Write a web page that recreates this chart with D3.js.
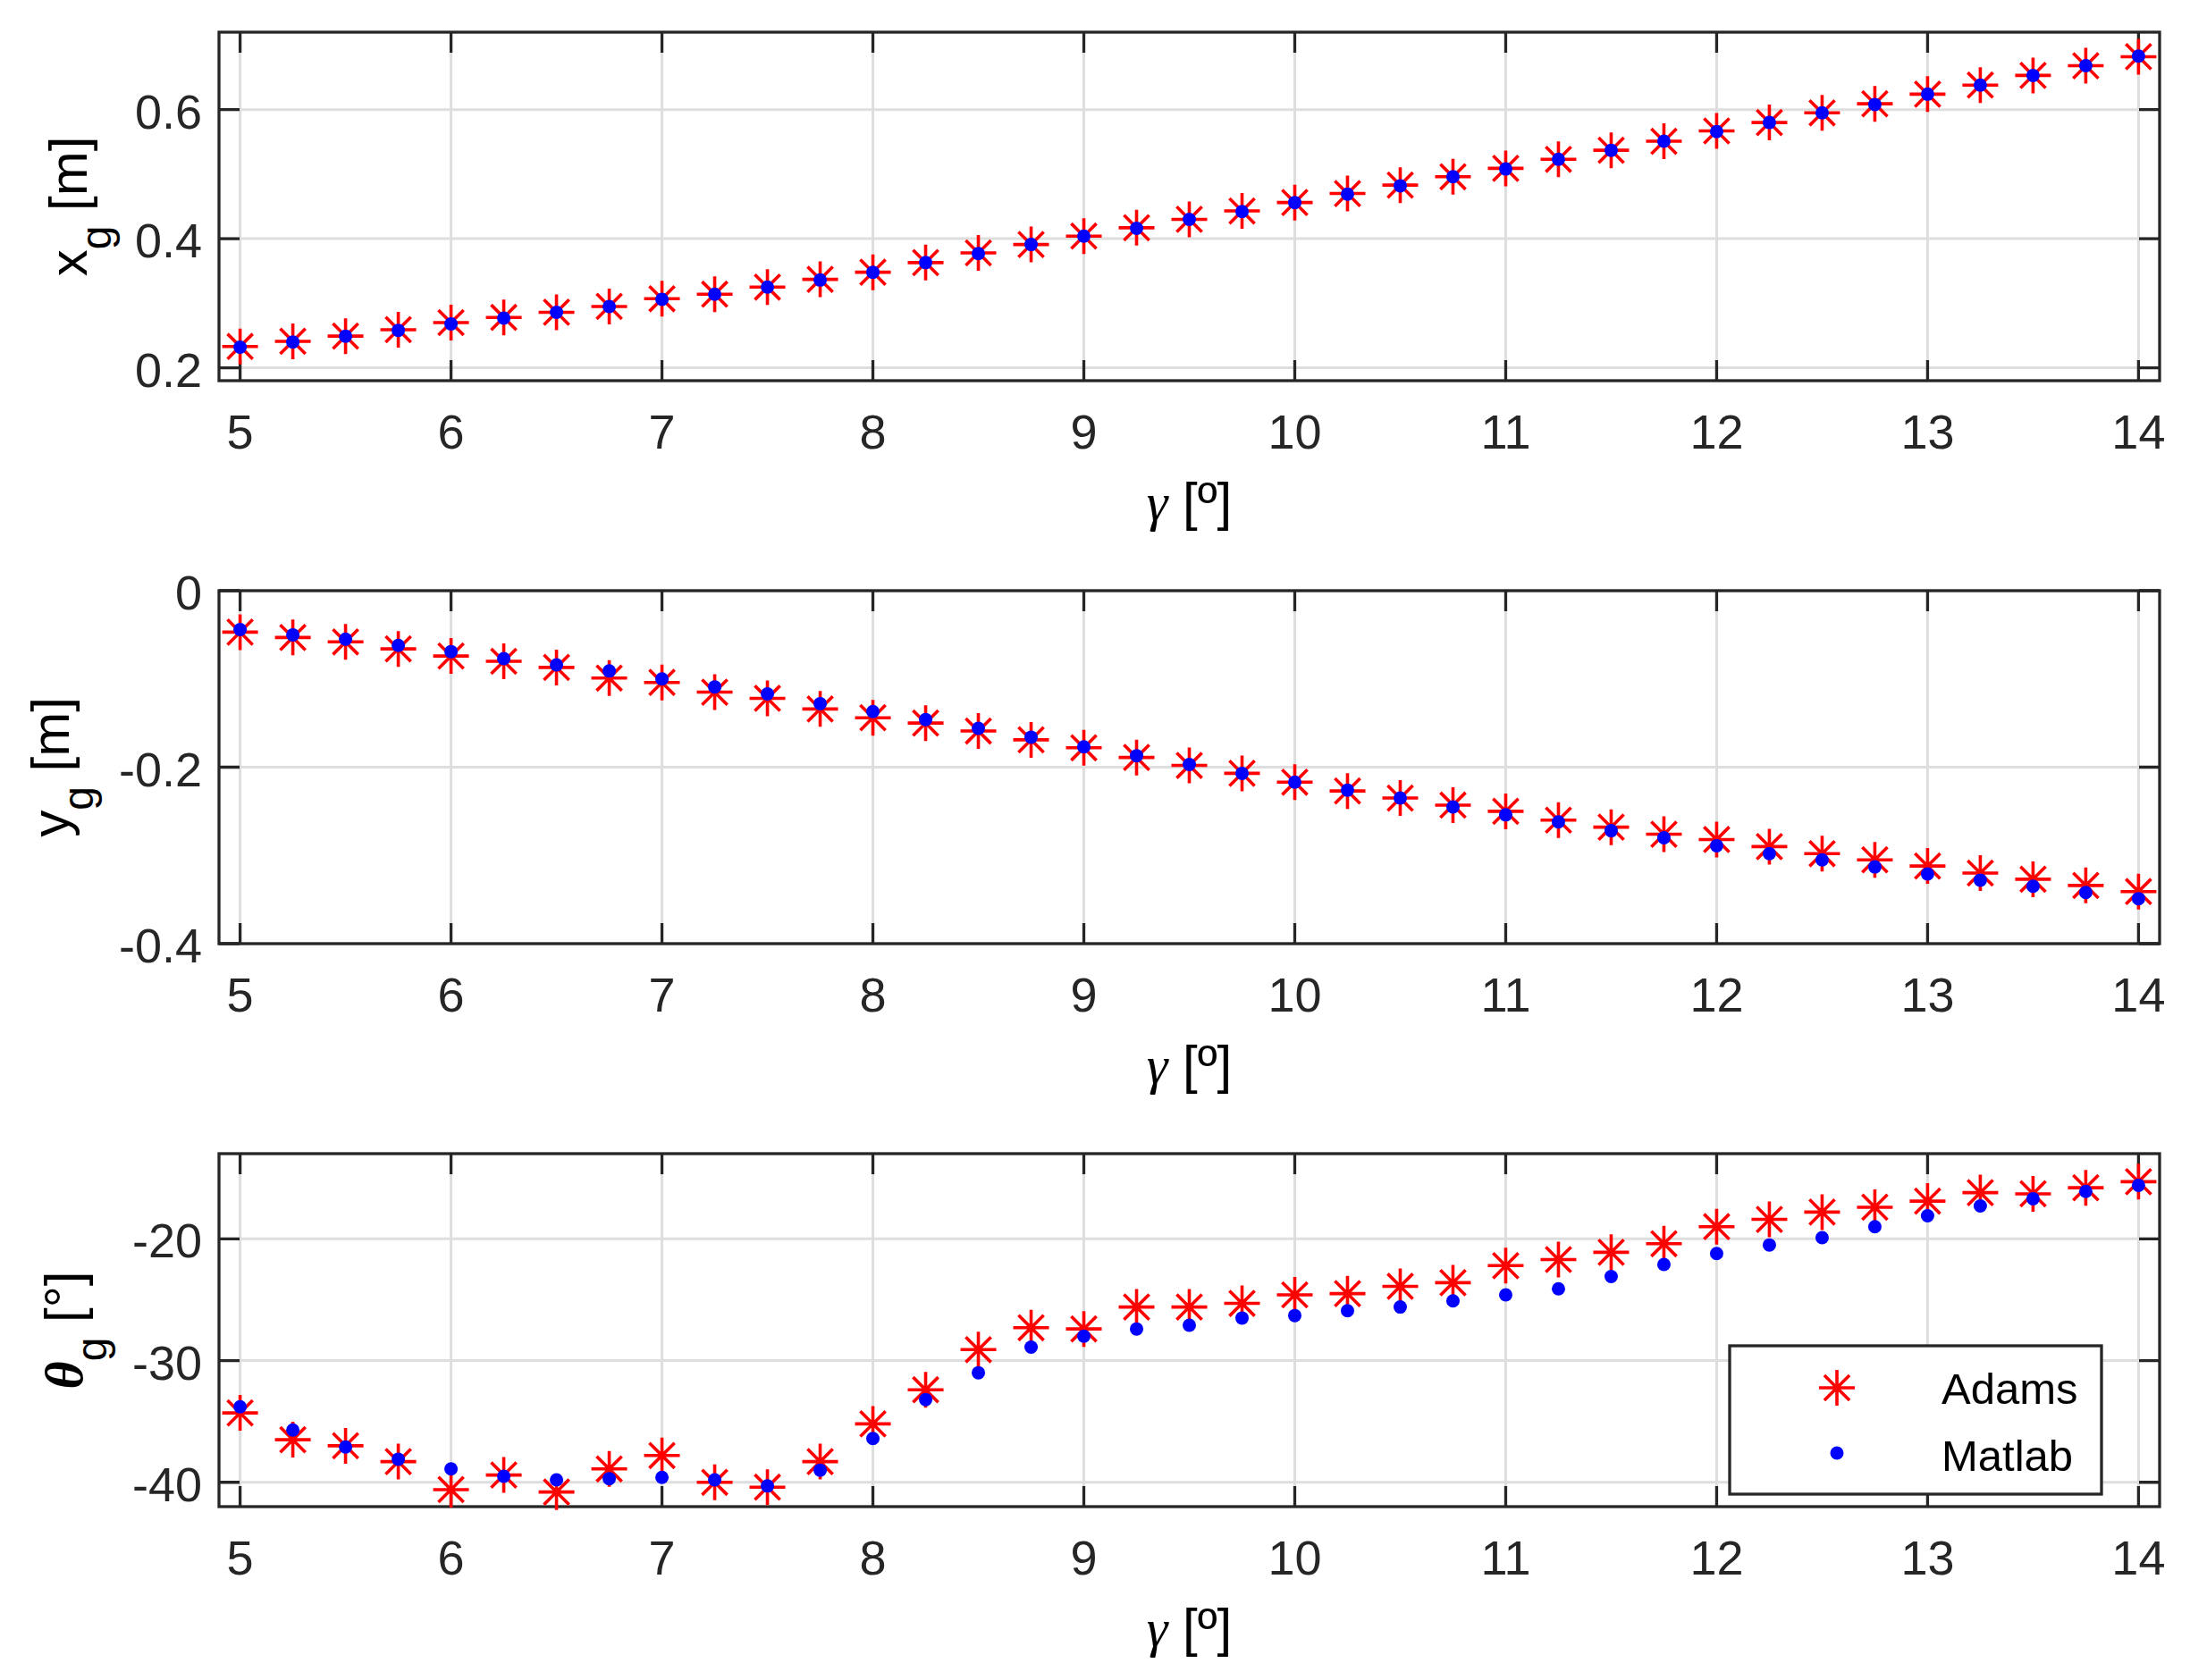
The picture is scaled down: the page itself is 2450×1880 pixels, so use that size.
<!DOCTYPE html>
<html>
<head>
<meta charset="utf-8">
<script src="https://cdn.jsdelivr.net/npm/d3@7"></script>
<style>
  body { margin: 0; background: #fff; }
  text { font-family: "Liberation Sans", Arial, Helvetica, sans-serif; }
</style>
</head>
<body>
<div id="chart"></div>
<script>
// gamma [deg]
var gamma = [5, 5.25, 5.5, 5.75, 6, 6.25, 6.5, 6.75, 7, 7.25, 7.5, 7.75, 8, 8.25, 8.5, 8.75, 9, 9.25, 9.5,
             9.75, 10, 10.25, 10.5, 10.75, 11, 11.25, 11.5, 11.75, 12, 12.25, 12.5, 12.75, 13, 13.25, 13.5, 13.75, 14];

var adamsX  = [0.233, 0.241, 0.249, 0.259, 0.270, 0.278, 0.286, 0.295, 0.307, 0.314, 0.325, 0.337, 0.348, 0.363, 0.378, 0.391, 0.404, 0.417, 0.430,
               0.443, 0.456, 0.470, 0.483, 0.496, 0.509, 0.523, 0.537, 0.551, 0.567, 0.580, 0.595, 0.609, 0.624, 0.638, 0.653, 0.668, 0.682];
var matlabX = [0.232, 0.240, 0.249, 0.258, 0.268, 0.277, 0.286, 0.295, 0.306, 0.314, 0.325, 0.336, 0.348, 0.363, 0.377, 0.391, 0.404, 0.416, 0.430,
               0.442, 0.456, 0.469, 0.482, 0.496, 0.508, 0.523, 0.537, 0.551, 0.566, 0.580, 0.595, 0.608, 0.624, 0.638, 0.653, 0.668, 0.683];

var adamsY  = [-0.047, -0.053, -0.058, -0.066, -0.074, -0.080, -0.087, -0.099, -0.104, -0.115, -0.122, -0.134, -0.144, -0.150, -0.159, -0.169, -0.178, -0.189, -0.198,
               -0.207, -0.217, -0.227, -0.235, -0.243, -0.250, -0.260, -0.268, -0.276, -0.282, -0.290, -0.298, -0.305, -0.312, -0.320, -0.327, -0.334, -0.341];
var matlabY = [-0.044, -0.050, -0.055, -0.062, -0.069, -0.077, -0.084, -0.091, -0.100, -0.109, -0.117, -0.128, -0.137, -0.146, -0.156, -0.166, -0.177, -0.187, -0.197,
               -0.207, -0.217, -0.226, -0.235, -0.245, -0.254, -0.262, -0.272, -0.280, -0.289, -0.298, -0.305, -0.313, -0.321, -0.328, -0.335, -0.342, -0.349];

var adamsT  = [-34.3, -36.5, -37.0, -38.3, -40.6, -39.4, -40.8, -38.9, -37.8, -40.0, -40.4, -38.3, -35.2, -32.4, -29.1, -27.3, -27.4, -25.6, -25.6,
               -25.3, -24.6, -24.5, -23.9, -23.6, -22.2, -21.7, -21.1, -20.4, -19.0, -18.4, -17.8, -17.4, -16.9, -16.2, -16.3, -15.8, -15.3];
var matlabT = [-33.8, -35.7, -37.1, -38.1, -38.9, -39.5, -39.8, -39.7, -39.6, -39.8, -40.3, -39.0, -36.4, -33.2, -31.0, -28.9, -28.0, -27.4, -27.1,
               -26.5, -26.3, -25.9, -25.6, -25.1, -24.6, -24.1, -23.1, -22.1, -21.2, -20.5, -19.9, -19.0, -18.1, -17.3, -16.7, -16.1, -15.6];

var xTicks = [5, 6, 7, 8, 9, 10, 11, 12, 13, 14];
var xTickLabels = ["5", "6", "7", "8", "9", "10", "11", "12", "13", "14"];
var yTicks1 = [0.2, 0.4, 0.6];   var yTickLabels1 = ["0.2", "0.4", "0.6"];
var yTicks2 = [-0.4, -0.2, 0];   var yTickLabels2 = ["-0.4", "-0.2", "0"];
var yTicks3 = [-40, -30, -20];   var yTickLabels3 = ["-40", "-30", "-20"];
var seriesNames = ["Adams", "Matlab"];

var width = 2450, height = 1880;
var left = 245, right = 2416;
var axColor = "#262626", gridColor = "#dedede";
var tickLen = 23, tickFont = 54, labelFont = 60, subFont = 48;

var svg = d3.select("#chart").append("svg")
    .attr("width", width)
    .attr("height", height);

var x = d3.scaleLinear().domain([4.9, 14.1]).range([left, right]);

var star = "M-20,0H20M0,-20V20M-14.1,-14.1L14.1,14.1M-14.1,14.1L14.1,-14.1";

function drawPanel(top, bottom, ydom, yticks, ylabels, adams, matlab, labelX, labelParts) {
    var y = d3.scaleLinear().domain(ydom).range([bottom, top]);
    var g = svg.append("g");

    // grid
    g.selectAll(".gx").data(xTicks).enter().append("line")
        .attr("x1", function(d) { return x(d); }).attr("x2", function(d) { return x(d); })
        .attr("y1", top).attr("y2", bottom)
        .attr("stroke", gridColor).attr("stroke-width", 3);
    g.selectAll(".gy").data(yticks).enter().append("line")
        .attr("x1", left).attr("x2", right)
        .attr("y1", function(d) { return y(d); }).attr("y2", function(d) { return y(d); })
        .attr("stroke", gridColor).attr("stroke-width", 3);

    // ticks (inward, all four sides)
    g.selectAll(".tb").data(xTicks).enter().append("path")
        .attr("d", function(d) { return "M" + x(d) + "," + bottom + "v" + (-tickLen) + "M" + x(d) + "," + top + "v" + tickLen; })
        .attr("stroke", axColor).attr("stroke-width", 3.3);
    g.selectAll(".tl").data(yticks).enter().append("path")
        .attr("d", function(d) { return "M" + left + "," + y(d) + "h" + tickLen + "M" + right + "," + y(d) + "h" + (-tickLen); })
        .attr("stroke", axColor).attr("stroke-width", 3.3);

    // box
    g.append("rect")
        .attr("x", left).attr("y", top)
        .attr("width", right - left).attr("height", bottom - top)
        .attr("fill", "none").attr("stroke", axColor).attr("stroke-width", 3.3);

    // tick labels
    g.selectAll(".xl").data(xTicks).enter().append("text")
        .attr("x", function(d) { return x(d); })
        .attr("y", bottom + 76)
        .attr("text-anchor", "middle")
        .attr("font-size", tickFont).attr("fill", axColor)
        .text(function(d, i) { return xTickLabels[i]; });
    g.selectAll(".yl").data(yticks).enter().append("text")
        .attr("x", left - 19)
        .attr("y", function(d) { return y(d) + 21; })
        .attr("text-anchor", "end")
        .attr("font-size", tickFont).attr("fill", axColor)
        .text(function(d, i) { return ylabels[i]; });

    // markers
    g.append("g").selectAll("path").data(adams).enter().append("path")
        .attr("transform", function(d, i) { return "translate(" + x(gamma[i]) + "," + y(d) + ")"; })
        .attr("d", star)
        .attr("stroke", "#ff0000").attr("stroke-width", 3.6).attr("fill", "none");
    g.append("g").selectAll("circle").data(matlab).enter().append("circle")
        .attr("cx", function(d, i) { return x(gamma[i]); })
        .attr("cy", function(d) { return y(d); })
        .attr("r", 7.5)
        .attr("fill", "#0000ff");

    // x label
    var xl = g.append("text")
        .attr("x", (left + right) / 2)
        .attr("y", bottom + 156)
        .attr("text-anchor", "middle")
        .attr("font-size", labelFont).attr("fill", "#000");
    xl.append("tspan").attr("font-family", "Liberation Serif, serif").attr("font-style", "italic").text("γ");
    xl.append("tspan").text(" [º]");

    // y label
    var yl = g.append("text")
        .attr("transform", "translate(" + labelX + "," + ((top + bottom) / 2) + ") rotate(-90)")
        .attr("text-anchor", "middle")
        .attr("font-size", labelFont).attr("fill", "#000");
    var main = yl.append("tspan").text(labelParts[0]);
    if (labelParts[0] == "θ") main.attr("font-family", "Liberation Serif, serif").attr("font-style", "italic").attr("font-weight", "bold");
    yl.append("tspan").attr("font-size", subFont).attr("dy", 27).text("g");
    yl.append("tspan").attr("dy", -27).text(labelParts[1]);

    return y;
}

drawPanel(36, 426, [0.18, 0.72], yTicks1, yTickLabels1, adamsX, matlabX, 97, ["x", " [m]"]);
drawPanel(661, 1056, [-0.4, 0], yTicks2, yTickLabels2, adamsY, matlabY, 77, ["y", " [m]"]);
drawPanel(1291, 1686, [-42, -13], yTicks3, yTickLabels3, adamsT, matlabT, 92, ["θ", " [°]"]);

// legend
var leg = svg.append("g");
leg.append("rect")
    .attr("x", 1935).attr("y", 1506)
    .attr("width", 416).attr("height", 166)
    .attr("fill", "#fff").attr("stroke", axColor).attr("stroke-width", 3.3);
leg.append("path")
    .attr("transform", "translate(2055,1553)")
    .attr("d", star)
    .attr("stroke", "#ff0000").attr("stroke-width", 3.6).attr("fill", "none");
leg.append("circle")
    .attr("cx", 2055).attr("cy", 1626).attr("r", 7.5)
    .attr("fill", "#0000ff");
leg.selectAll("text").data(seriesNames).enter().append("text")
    .attr("x", 2172)
    .attr("y", function(d, i) { return i == 0 ? 1571 : 1646; })
    .attr("font-size", 49).attr("fill", "#000")
    .text(function(d) { return d; });
</script>
</body>
</html>
